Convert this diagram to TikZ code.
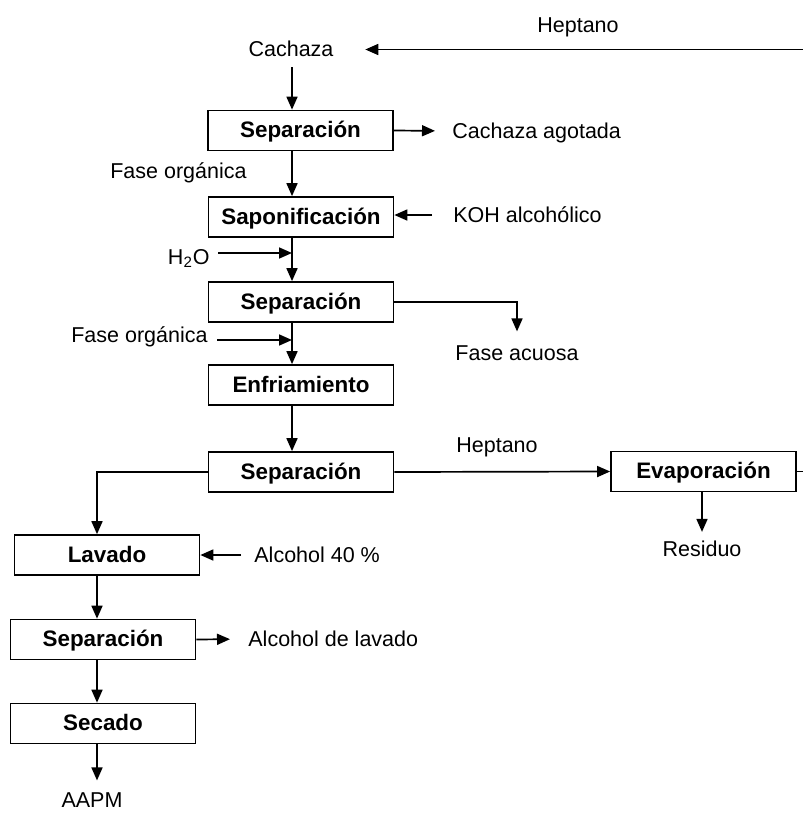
\documentclass[tikz,border=0pt]{standalone}
\usepackage{fontspec}
\setmainfont{Liberation Sans}
\usepackage{tikz}
\usetikzlibrary{arrows.meta,calc}

\begin{document}
\begin{tikzpicture}[x=0.5pt,y=-0.5pt,
    proc/.style={draw,line width=0.85pt,minimum width=92.5pt,minimum height=20pt,
      inner sep=0pt,text height=0.72em,text depth=0pt,
      font=\fontsize{11.2}{13}\selectfont\bfseries},
    lbl/.style={inner sep=0pt,text height=0.72em,text depth=0pt,
      font=\fontsize{10.75}{13}\selectfont},
    flujo/.style={line width=0.85pt,-{Triangle[length=6.5pt,width=5.5pt]}}]
  \path[use as bounding box,clip] (0,0) rectangle (803,814);
  % Cajas
  \foreach \nm/\x/\y/\txt in {
    sepA/300.5/130.5/Separación,
    sapo/301/217/Saponificación,
    sepB/301/302/Separación,
    enfr/301/385/Enfriamiento,
    sepC/301/472/Separación,
    evap/703.5/471.5/Evaporación,
    lava/107/555/Lavado,
    sepD/103/639.5/Separación,
    seca/103/723.5/Secado}{
    \node[proc] (\nm) at (\x,\y) {\txt};
  }
  % Textos
  \foreach \nm/\x/\y/\anc/\txt in {
    hepA/578/25/center/Heptano,
    cach/291/49.5/center/Cachaza,
    cago/452/131/west/Cachaza agotada,
    orgA/247/171/east/Fase orgánica,
    koh/453/215/west/KOH alcohólico,
    agua/210/257/east/H\textsubscript{2}O,
    acuo/517/353/center/Fase acuosa,
    orgB/208/335/east/Fase orgánica,
    hepB/497/445/center/Heptano,
    resi/702/549.5/center/Residuo,
    alcA/254/555/west/Alcohol 40 \%,
    alcB/248/639/west/Alcohol de lavado,
    aapm/92/800/center/AAPM}{
    \node[lbl,anchor=\anc] (\nm) at (\x,\y) {\txt};
  }
  % Ejes
  \coordinate (colA) at (292,0);
  \coordinate (colB) at (97,0);
  \coordinate (aguaIn) at (292,253);
  \coordinate (orgIn) at (292,340);
  % Flechas
  \draw[flujo,shorten <=5pt] (cach.south -| colA) -- (sepA.north -| colA);
  \draw[flujo,shorten >=8.5pt] (sepA.east) -- (cago.west);
  \draw[flujo] (sepA.south -| colA) -- (sapo.north -| colA);
  \draw[flujo,shorten <=10.5pt] (koh.west) -- (koh.west -| sapo.east);
  \draw[flujo] (sapo.south -| colA) -- (sepB.north -| colA);
  \draw[flujo,shorten <=4pt] (agua.east |- aguaIn) -- (aguaIn);
  \draw[flujo,shorten >=7pt] (sepB.east) -| (acuo.north);
  \draw[flujo] (sepB.south -| colA) -- (enfr.north -| colA);
  \draw[flujo,shorten <=4.5pt] (orgB.east |- orgIn) -- (orgIn);
  \draw[flujo] (enfr.south -| colA) -- (sepC.north -| colA);
  \draw[flujo] (sepC.east) -- (evap.west);
  \draw[flujo,shorten >=5pt] (evap.south -| resi) -- (resi.north);
  \draw[flujo] (sepC.west) -| (lava.north -| colB);
  \draw[flujo,shorten <=6.5pt] (alcA.west) -- (alcA.west -| lava.east);
  \draw[flujo] (lava.south -| colB) -- (sepD.north -| colB);
  \draw[flujo,shorten >=9pt] (sepD.east) -- (alcB.west);
  \draw[flujo] (sepD.south -| colB) -- (seca.north -| colB);
  \draw[flujo,shorten >=6pt] (seca.south -| colB) -- (aapm.north -| colB);
  % Reciclo de heptano
  \draw[flujo,shorten >=15.75pt] (evap.east) -- ++(30,0) |- (cach.east);
\end{tikzpicture}
\end{document}
